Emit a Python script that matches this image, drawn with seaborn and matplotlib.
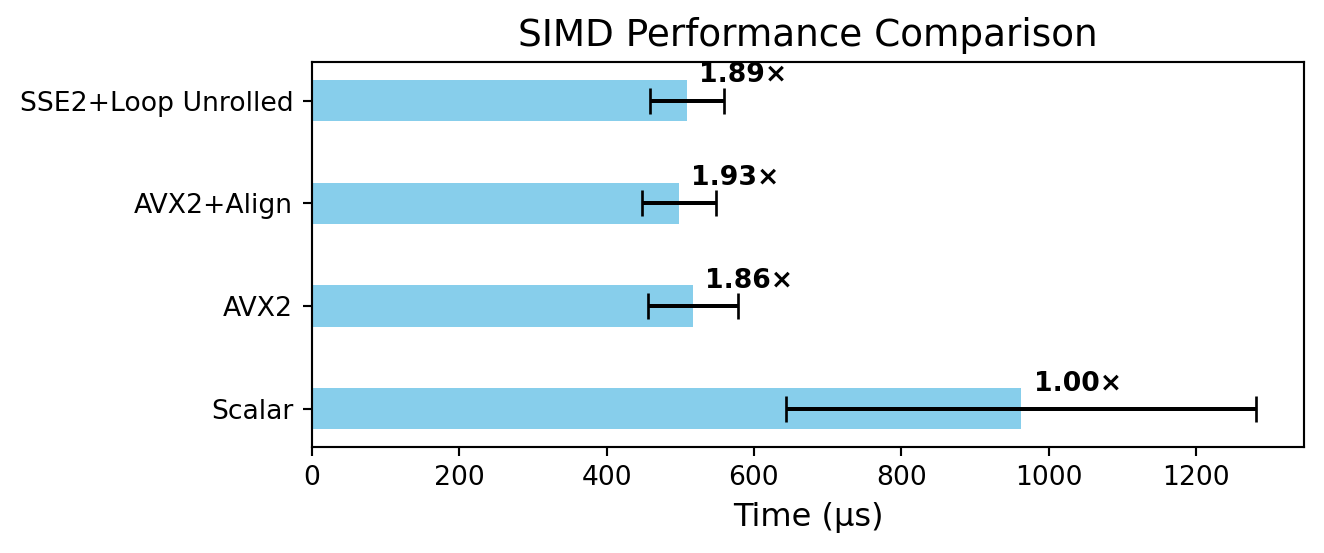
import matplotlib
matplotlib.use("Agg")
import matplotlib.pyplot as plt
import seaborn as sns
import pandas as pd
import numpy as np

# Data (top to bottom as shown)
categories = ["SSE2+Loop Unrolled", "AVX2+Align", "AVX2", "Scalar"]
times_us = [509, 498, 517, 963]
errors_us = [50, 50, 61, 319]
baseline = "Scalar"

df = pd.DataFrame({"Method": categories, "Time": times_us, "Err": errors_us})
base_time = df.loc[df["Method"] == baseline, "Time"].iloc[0]
df["Speedup"] = base_time / df["Time"]

DPI = 192
fig, ax = plt.subplots(figsize=(1324 / DPI, 553 / DPI), dpi=DPI)
sns.barplot(data=df, x="Time", y="Method", order=categories, orient="h",
            color="skyblue", saturation=1, width=0.4, ax=ax)
pos = np.arange(len(categories))
ax.errorbar(df["Time"], pos, xerr=df["Err"], fmt="none", ecolor="black",
            capsize=5, elinewidth=1.5)

for i, row in df.iterrows():
    ax.text(row["Time"] + 17, i - 0.245, f"{row['Speedup']:.2f}×",
            ha="left", va="center", fontsize=10, fontweight="bold")

ax.set_ylim(len(categories) - 1 + 0.37, -0.37)
ax.set_xlim(0, 1347)
ax.set_xlabel("Time (μs)", fontsize=12)
ax.set_ylabel("")
ax.set_title("SIMD Performance Comparison", fontsize=14)
for s in ax.spines.values():
    s.set_visible(True)
    s.set_color("black")

fig.subplots_adjust(left=0.2356, right=0.985, top=0.887, bottom=0.192)
fig.savefig("out.png", dpi=DPI)
